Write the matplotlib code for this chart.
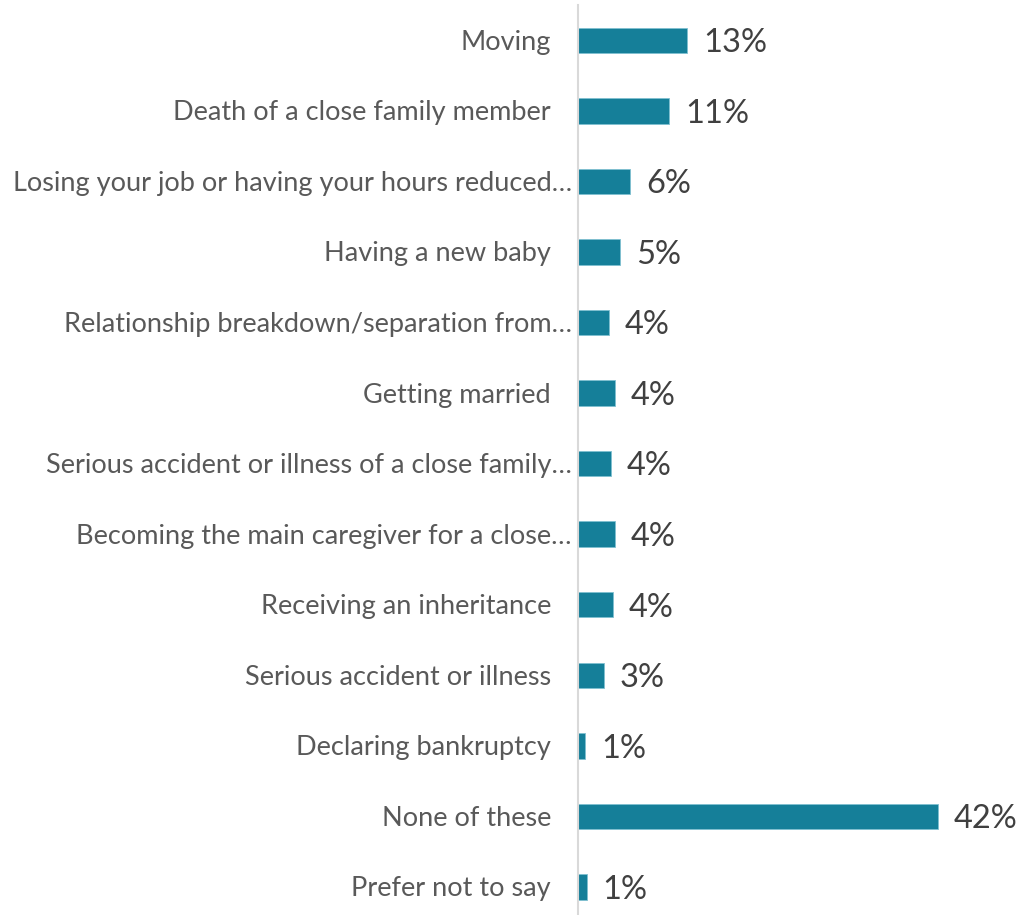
import matplotlib
matplotlib.use("Agg")
import matplotlib.pyplot as plt

categories = [
    "Moving",
    "Death of a close family member",
    "Losing your job or having your hours reduced…",
    "Having a new baby",
    "Relationship breakdown/separation from…",
    "Getting married",
    "Serious accident or illness of a close family…",
    "Becoming the main caregiver for a close…",
    "Receiving an inheritance",
    "Serious accident or illness",
    "Declaring bankruptcy",
    "None of these",
    "Prefer not to say",
]
values = [12.7, 10.6, 6.1, 4.9, 3.6, 4.3, 3.8, 4.3, 4.1, 3.0, 0.8, 42.0, 1.0]
value_labels = ["13%", "11%", "6%", "5%", "4%", "4%", "4%", "4%", "4%", "3%", "1%", "42%", "1%"]
truncated = [False, False, True, False, True, False, True, True, False, False, False, False, False]

W, H, DPI = 1020, 915, 100
fig = plt.figure(figsize=(W / DPI, H / DPI), dpi=DPI)
ax_left = 578 / W
ax_bottom = 0.0
ax_top = 1 - 5 / H
ax = fig.add_axes([ax_left, ax_bottom, 1 - ax_left, ax_top - ax_bottom])

color = "#157F99"
ypos = list(range(len(categories)))
ax.barh(ypos, values, height=0.36, color=color, edgecolor="#7fc0d0", linewidth=0.6)

ax.set_xlim(0, (W - 578) / 8.57)
spacing = (887 - 40.5) / 12
ax.set_ylim(12 + (915 - 887) / spacing, -0.5)

for s in ["top", "right", "bottom"]:
    ax.spines[s].set_visible(False)
ax.spines["left"].set_color("#d9d9d9")
ax.spines["left"].set_linewidth(1.5)
ax.set_xticks([])
ax.set_yticks([])

font = "Lato"
for y, cat, tr in zip(ypos, categories, truncated):
    off = -6 if tr else -27
    ax.annotate(cat, xy=(0, y), xycoords=("axes fraction", "data"),
                xytext=(off * 0.72, -2 * 0.72), textcoords="offset points",
                ha="right", va="center", fontsize=19.5, color="#595959",
                family=font)

for y, v, lab in zip(ypos, values, value_labels):
    ax.annotate(lab, xy=(v, y), xycoords="data",
                xytext=(16 * 0.72, -2), textcoords="offset points",
                ha="left", va="center", fontsize=23.5, color="#404040",
                family=font)

fig.savefig("out.png", dpi=DPI)
